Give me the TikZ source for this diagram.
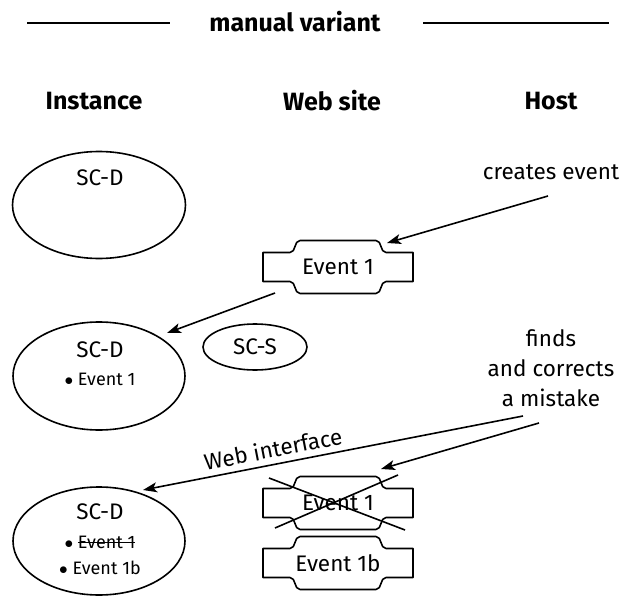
\documentclass[tikz,border=0pt]{standalone}
\usepackage{fontspec}
\setmainfont{Fira Sans}
\usetikzlibrary{shapes.geometric,arrows.meta,positioning}

\newcommand{\strikeout}[1]{\setbox0\hbox{#1}\rlap{\rule[0.3em]{\wd0}{0.9pt}}\box0}
\tikzset{every picture/.append style={x=1pt,y=-1pt}}
\tikzset{
  evline/.style={line width=1.6pt, line join=round},
  conn/.style={line width=1.6pt, -{Stealth[length=14pt,width=10pt,inset=3.5pt]}},
  inst/.style={ellipse, draw, line width=1.6pt, inner sep=0pt},
  evbox/.style={minimum width=150pt, minimum height=53pt, inner sep=0pt},
  head/.style={font=\fontsize{25}{30}\selectfont\bfseries},
  txt/.style={font=\fontsize{22.5}{27}\selectfont, inner sep=1pt},
  small/.style={font=\fontsize{18}{22}\selectfont, inner sep=1pt},
}
\newcommand{\evshape}[1]{%
  \draw[evline] ([shift={(-38,-26.5)}]#1.center) -- ++(76,0)
    to[out=0,in=180] ++(10,12) -- ++(27,0) -- ++(0,29) -- ++(-27,0)
    to[out=180,in=0] ++(-10,12) -- ++(-76,0)
    to[out=180,in=0] ++(-10,-12) -- ++(-27,0) -- ++(0,-29) -- ++(27,0)
    to[out=0,in=180] ++(10,-12) -- cycle;}

\begin{document}
\begin{tikzpicture}
  \useasboundingbox (0,0) rectangle (638,597);
  % title and columns
  \node[head] (title) at (295,22) {manual variant};
  \draw[line width=1.6pt] (27,23) -- (170,23);
  \draw[line width=1.6pt] (423,23) -- (609,23);
  \node[head] (hinst) at (94,101) {Instance};
  \node[head] (hweb) at (332,101) {Web site};
  \node[head] (hhost) at (551,101) {Host};

  % instances
  \node[inst, minimum width=173pt, minimum height=107pt] (e1) at (99,205) {};
  \node[txt] (e1a) at (100,178) {SC-D};
  \node[inst, minimum width=172pt, minimum height=108pt] (e2) at (99,376) {};
  \node[txt] (e2a) at (100,350) {SC-D};
  \node[small] (e2b) at (100,379) {$\bullet$ Event 1};
  \node[inst, minimum width=104pt, minimum height=46pt, txt] (scs) at (255,347) {SC-S};
  \node[inst, minimum width=172pt, minimum height=108pt] (e3) at (99,541) {};
  \node[txt] (e3a) at (100,512) {SC-D};
  \node[small] (e3b) at (100,542) {$\bullet$ \strikeout{Event 1}};
  \node[small] (e3c) at (100,568) {$\bullet$ Event 1b};

  % web site
  \node[evbox, txt] (ev1) at (338,267) {Event 1};
  \evshape{ev1}
  \node[evbox, txt] (ev2) at (338,503) {Event 1};
  \evshape{ev2}
  \draw[evline] ([shift={(-69,-25)}]ev2.center) -- ([shift={(67,27)}]ev2.center);
  \draw[evline] ([shift={(-63,25)}]ev2.center) -- ([shift={(60,-28)}]ev2.center);
  \node[evbox, txt] (ev3) at (338,563) {Event 1b};
  \evshape{ev3}

  % host
  \node[txt] (creates) at (551,172) {creates event};
  \node[txt, align=center] (finds) at (551,368) {finds\\[3pt]and corrects\\[3pt]a mistake};
  \coordinate (c1) at (548,196);
  \coordinate (c2) at (523,416);
  \coordinate (c3) at (539,423);
  \coordinate (c4) at ([shift={(-63,26)}]ev1.center);

  \draw[conn] (c1) -- ([shift={(49,-24)}]ev1.center);
  \draw[conn] (c4) -- ([shift={(68,-43)}]e2.center);
  \draw[conn] (c2) -- node[txt, above, sloped, pos=0.65, inner sep=6pt] (webif) {Web interface} ([shift={(44,-51)}]e3.center);
  \draw[conn] (c3) -- ([shift={(43,-34)}]ev2.center);
\end{tikzpicture}
\end{document}
